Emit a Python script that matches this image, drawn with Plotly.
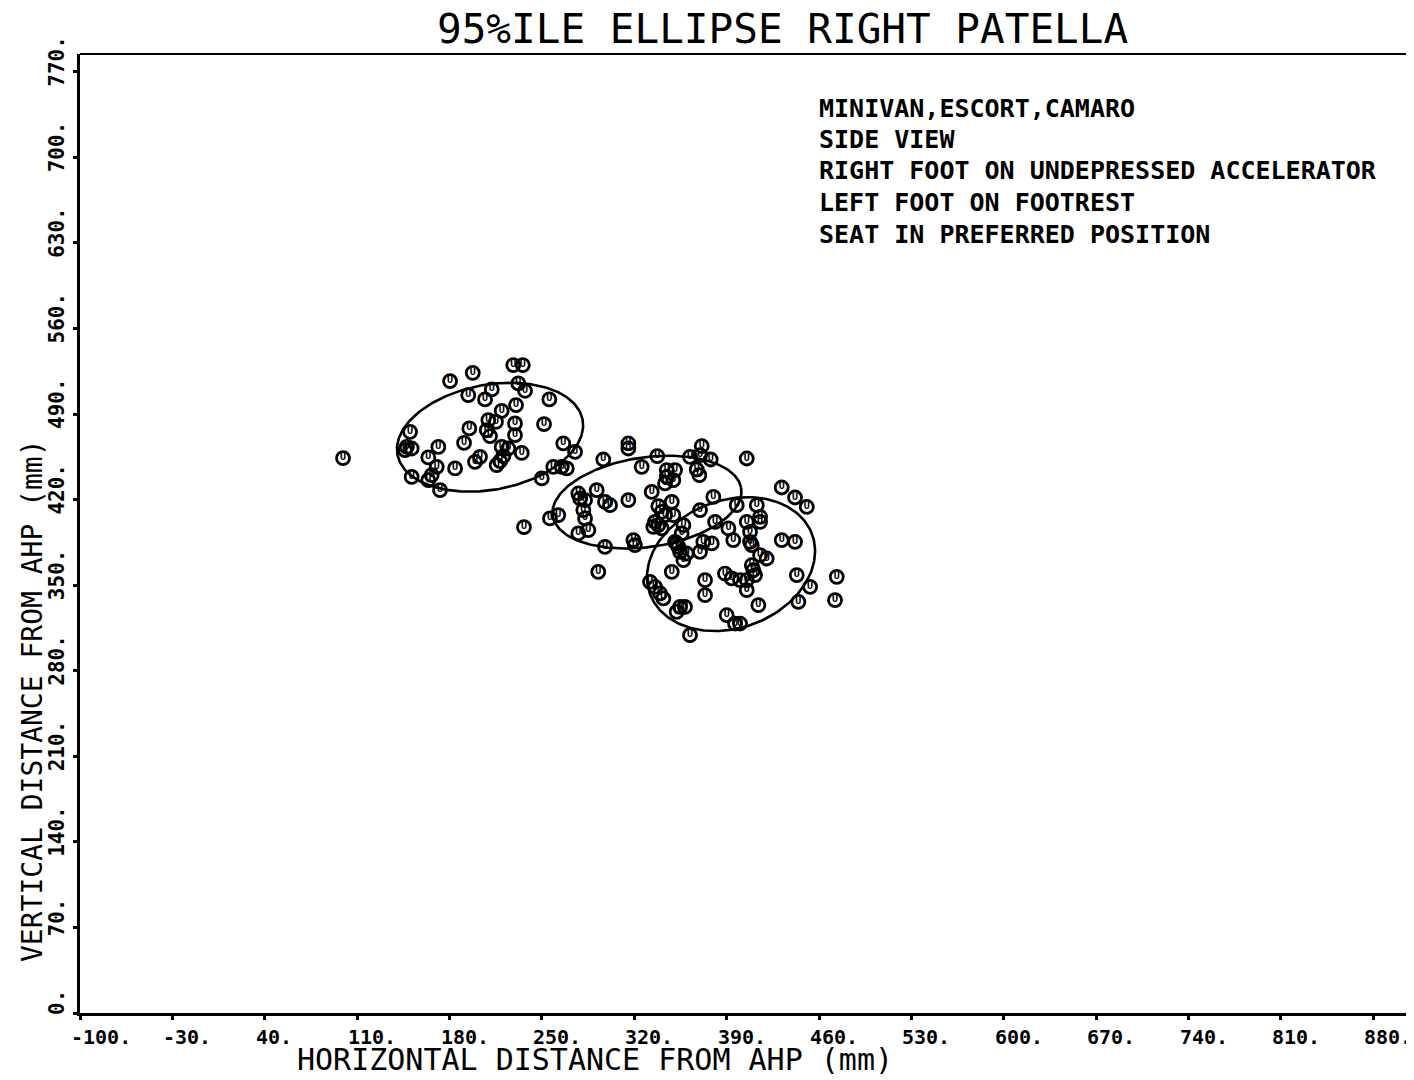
import numpy as np
import plotly.graph_objects as go

# ---------------- data ----------------
patella_x = [
    99.3, 228.3, 235.5, 197.6, 180.4, 232.1, 212.0, 237.2, 194.2, 206.9,
    255.6, 230.4, 219.5, 209.4, 215.2, 229.6, 251.6, 195.0, 208.2, 150.1,
    210.7, 229.6, 191.0, 266.2, 171.5, 219.5, 147.6, 146.3, 151.3, 224.5,
    234.7, 275.1, 163.9, 220.8, 203.1, 199.3, 218.3, 215.7, 170.3, 184.2,
    258.6, 265.0, 268.8, 166.5, 151.3, 163.9, 249.9, 172.8,
    236.4, 256.1, 262.4, 315.5, 315.5, 371.1, 362.2, 369.8, 377.9, 367.3,
    369.3, 337.4, 296.5, 405.2, 325.6, 344.6, 350.9, 344.6, 349.6, 343.3,
    291.5, 277.6, 278.9, 282.7, 297.8, 301.6, 315.5, 333.2, 379.9, 348.4,
    338.2, 340.8, 343.3, 281.4, 282.7, 349.6, 369.8, 397.6, 335.7, 338.2,
    340.8, 334.4, 357.2, 355.9, 381.2, 391.3, 285.2, 277.6, 395.0, 319.3,
    320.5, 297.8, 352.1, 372.3, 378.7, 354.7, 359.7, 369.8, 292.7,
    431.7, 441.8, 450.7, 412.8, 415.3, 415.3, 405.2, 407.7, 350.9, 353.4,
    357.2, 407.7, 409.0, 431.7, 441.8, 415.3, 420.3, 348.4, 409.0, 410.2,
    411.5, 388.7, 393.8, 400.1, 405.2, 405.2, 373.6, 373.6, 443.1, 331.9,
    335.7, 339.5, 342.0, 453.2, 473.4, 414.0, 354.7, 358.4, 352.1, 444.3,
    472.1, 390.0, 396.3, 400.1, 362.2,
]
patella_y = [
    453.9, 530.0, 530.0, 523.7, 516.9, 515.0, 510.1, 509.0, 505.4, 501.9,
    501.9, 497.3, 492.6, 485.0, 483.6, 482.3, 481.7, 478.2, 476.8, 475.4,
    471.9, 472.7, 466.4, 465.9, 463.1, 463.1, 463.1, 460.4, 461.8, 461.8,
    458.2, 459.0, 454.5, 455.5, 455.0, 450.9, 451.4, 448.2, 446.8, 445.5,
    446.8, 446.8, 445.5, 440.0, 438.6, 435.9, 437.3, 427.7,
    397.4, 404.6, 407.3, 465.9, 461.8, 463.7, 455.0, 456.3, 452.8, 444.6,
    440.0, 455.5, 452.8, 453.6, 446.8, 444.1, 444.1, 438.6, 435.9, 433.2,
    427.7, 425.0, 420.9, 419.5, 418.1, 415.4, 419.5, 426.3, 422.2, 418.1,
    414.6, 410.0, 407.3, 411.3, 404.6, 407.3, 411.3, 415.4, 401.8, 399.1,
    396.4, 397.7, 399.1, 392.3, 401.8, 396.4, 395.0, 392.3, 386.8, 386.8,
    382.7, 381.3, 384.1, 385.4, 384.1, 377.2, 375.9, 377.2, 360.9,
    429.9, 421.7, 414.0, 415.4, 405.9, 401.8, 401.8, 393.6, 385.4, 381.3,
    370.4, 385.4, 382.7, 386.8, 385.4, 374.5, 371.8, 360.9, 366.3, 362.2,
    358.2, 359.5, 355.5, 354.1, 354.1, 345.9, 354.1, 341.8, 358.2, 352.7,
    348.6, 343.2, 339.1, 348.6, 356.8, 333.6, 332.2, 332.2, 328.1, 336.3,
    337.7, 325.4, 318.6, 318.6, 309.1,
]

# 95% ellipses: centre, semi-axes (mm) and tilt (degrees)
ellipse_cx = [210.7, 329.6, 393.3]
ellipse_cy = [471.0, 417.9, 367.2]
ellipse_a = [71.6, 72.3, 66.2]
ellipse_b = [42.8, 36.6, 51.7]
ellipse_angle = [12.4, 9.25, 26.0]

x_tickvals = [-100, -30, 40, 110, 180, 250, 320, 390, 460, 530, 600, 670, 740, 810, 880]
x_ticktext = ["-100.", "-30.", "40.", "110.", "180.", "250.", "320.", "390.", "460.",
              "530.", "600.", "670.", "740.", "810.", "880."]
y_tickvals = [0, 70, 140, 210, 280, 350, 420, 490, 560, 630, 700, 770]
y_ticktext = ["0.", "70.", "140.", "210.", "280.", "350.", "420.", "490.", "560.",
              "630.", "700.", "770."]

note_lines = [
    "MINIVAN,ESCORT,CAMARO",
    "SIDE VIEW",
    "RIGHT FOOT ON UNDEPRESSED ACCELERATOR",
    "LEFT FOOT ON FOOTREST",
    "SEAT IN PREFERRED POSITION",
]

MONO = "DejaVu Sans Mono, Liberation Mono, monospace"
# plot area in screen pixels (page body adds an 8px offset)
PL, PR, PT, PB = 80, 1409, 54, 1013
PW, PH = PR - PL, PB - PT

fig = go.Figure()

# ellipses
t = np.linspace(0, 2 * np.pi, 240)
for cx, cy, a, b, ang in zip(ellipse_cx, ellipse_cy, ellipse_a, ellipse_b, ellipse_angle):
    th = np.deg2rad(ang)
    ex = cx + a * np.cos(th) * np.cos(t) - b * np.sin(th) * np.sin(t)
    ey = cy + a * np.sin(th) * np.cos(t) + b * np.cos(th) * np.sin(t)
    fig.add_trace(go.Scatter(x=ex, y=ey, mode="lines",
                             line=dict(color="black", width=2.6),
                             hoverinfo="skip", showlegend=False))

# data points (circle with a U inside)
fig.add_trace(go.Scatter(
    x=patella_x, y=patella_y, mode="markers+text",
    marker=dict(symbol="circle-open", size=13, color="black",
                line=dict(color="black", width=2.8)),
    text=["U"] * len(patella_x), textposition="middle center",
    textfont=dict(family="DejaVu Sans", size=8, color="black", weight="bold"),
    showlegend=False,
))

annotations = []
# title
annotations.append(dict(
    text="95%ILE ELLIPSE RIGHT PATELLA", xref="paper", yref="paper",
    x=(782.5 - PL) / PW, y=1 + (PT - 29) / PH, xanchor="center", yanchor="middle",
    showarrow=False, font=dict(family=MONO, size=41, color="black")))
# axis titles
annotations.append(dict(
    text="HORIZONTAL DISTANCE FROM AHP (mm)", xref="paper", yref="paper",
    x=(594.5 - PL) / PW, y=-(1059 - PB) / PH, xanchor="center", yanchor="middle",
    showarrow=False, font=dict(family=MONO, size=30, color="black")))
annotations.append(dict(
    text="VERTICAL DISTANCE FROM AHP (mm)", xref="paper", yref="paper",
    x=-(PL - 32) / PW, y=(PB - 701) / PH, xanchor="center", yanchor="middle",
    textangle=-90, showarrow=False, font=dict(family=MONO, size=28, color="black")))
# notes
note_y_px = [108, 139.5, 171, 202.5, 234]
for line, py in zip(note_lines, note_y_px):
    annotations.append(dict(
        text=line, xref="paper", yref="paper",
        x=(817 - PL) / PW, y=(PB - py) / PH, xanchor="left", yanchor="middle",
        showarrow=False, font=dict(family=MONO, size=25, color="black", weight="bold")))
# x tick labels (left-aligned just before each tick, as in the plotter output)
for v, s in zip(x_tickvals, x_ticktext):
    annotations.append(dict(
        text=s, xref="x", yref="paper", x=v, y=0, xanchor="left", yanchor="middle",
        xshift=-11, yshift=-24, showarrow=False,
        font=dict(family=MONO, size=20, color="black", weight="bold")))
# y tick labels (rotated)
for v, s in zip(y_tickvals, y_ticktext):
    annotations.append(dict(
        text=s, xref="paper", yref="y", x=0, y=v, xanchor="center", yanchor="middle",
        xshift=-23, yshift=10, textangle=-90, showarrow=False,
        font=dict(family=MONO, size=21, color="black", weight="bold")))

fig.update_layout(
    width=1414, height=1080,
    margin=dict(l=PL - 8, r=1414 - (PR - 8), t=PT - 8, b=1080 - (PB - 8), autoexpand=False),
    paper_bgcolor="white", plot_bgcolor="white",
    showlegend=False,
    annotations=annotations,
    shapes=[
        dict(type="line", xref="paper", yref="paper", x0=0, x1=1, y0=1, y1=1,
             line=dict(color="black", width=2)),
        dict(type="line", xref="paper", yref="paper", x0=1, x1=1, y0=0, y1=1,
             line=dict(color="black", width=2)),
    ],
    xaxis=dict(
        range=[-100, 907], showgrid=False, zeroline=False, automargin=False,
        showline=True, linecolor="black", linewidth=3,
        ticks="outside", ticklen=4, tickwidth=2.5, tickcolor="black",
        tickvals=x_tickvals, showticklabels=False,
    ),
    yaxis=dict(
        range=[0, 784.5], showgrid=False, zeroline=False, automargin=False,
        showline=True, linecolor="black", linewidth=3,
        ticks="outside", ticklen=4, tickwidth=2.5, tickcolor="black",
        tickvals=y_tickvals, showticklabels=False,
    ),
)

fig.write_html("out.html")
